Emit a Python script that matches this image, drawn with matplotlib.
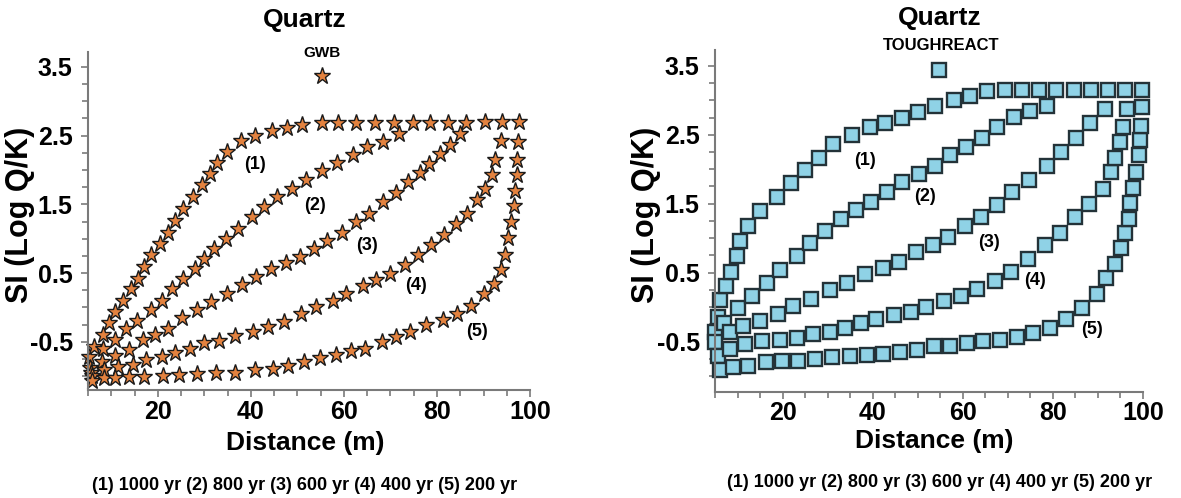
import matplotlib
matplotlib.use("Agg")
import matplotlib.pyplot as plt
from matplotlib.ticker import MultipleLocator, FixedLocator

plt.rcParams['font.family'] = ['Liberation Sans', 'DejaVu Sans']
plt.rcParams['font.weight'] = 'bold'
plt.rcParams['axes.unicode_minus'] = False

# ---- GWB (left panel) ----
gwb1_x = [5.2, 6.3, 8.3, 9.6, 10.9, 12.5, 14.2, 15.8, 17.1, 18.6, 20.4, 22.1, 23.7, 25.5, 27.5,
          29.5, 31.2, 32.8, 34.8, 37.8, 40.9, 44.5, 47.7, 51.0, 55.2, 58.8, 62.7, 66.7, 70.8,
          74.8, 78.5, 82.3, 86.3, 90.3, 94.0, 97.6]
gwb1_y = [-0.72, -0.57, -0.40, -0.23, -0.07, 0.10, 0.27, 0.42, 0.59, 0.76, 0.93, 1.09, 1.26, 1.43,
          1.60, 1.78, 1.94, 2.10, 2.26, 2.42, 2.49, 2.56, 2.61, 2.66, 2.68, 2.68, 2.68, 2.69, 2.69,
          2.69, 2.69, 2.69, 2.69, 2.70, 2.70, 2.70]
gwb2_x = [5.5, 8.3, 10.8, 13.1, 15.6, 18.5, 20.8, 23.1, 25.4, 27.9, 30.0, 32.1, 34.6, 37.3, 40.2,
          42.9, 45.6, 48.8, 51.9, 55.2, 58.5, 61.9, 65.0, 68.5, 71.9]
gwb2_y = [-0.88, -0.60, -0.48, -0.32, -0.19, -0.04, 0.10, 0.27, 0.42, 0.56, 0.71, 0.85, 1.00, 1.14,
          1.31, 1.46, 1.60, 1.73, 1.86, 1.99, 2.10, 2.22, 2.33, 2.41, 2.53]
gwb3_x = [5.6, 8.1, 10.8, 13.8, 16.9, 19.4, 22.1, 25.2, 28.5, 31.5, 34.8, 38.1, 41.2, 44.4, 47.5,
          50.6, 53.5, 56.4, 59.6, 62.5, 65.4, 68.5, 71.2, 73.8, 76.3, 78.3, 80.6, 82.9, 85.0]
gwb3_y = [-0.95, -0.80, -0.70, -0.62, -0.47, -0.40, -0.31, -0.16, -0.04, 0.08, 0.20, 0.32, 0.44,
          0.56, 0.64, 0.73, 0.85, 0.97, 1.09, 1.24, 1.36, 1.53, 1.66, 1.82, 1.96, 2.08, 2.23, 2.37,
          2.53]
gwb4_x = [5.8, 8.4, 11.5, 14.6, 17.5, 20.9, 23.8, 26.9, 30.0, 33.2, 36.7, 40.4, 43.7, 47.2, 50.8,
          54.0, 57.7, 60.5, 64.1, 66.9, 70.0, 73.1, 76.0, 78.8, 81.5, 84.0, 86.5, 88.5, 90.4, 91.9,
          92.5, 93.8]
gwb4_y = [-1.00, -0.91, -0.87, -0.83, -0.77, -0.72, -0.66, -0.60, -0.52, -0.49, -0.42, -0.36,
          -0.29, -0.21, -0.09, 0.01, 0.09, 0.20, 0.31, 0.40, 0.49, 0.62, 0.77, 0.91, 1.06, 1.22,
          1.36, 1.56, 1.73, 1.93, 2.14, 2.42]
gwb5_x = [5.8, 8.5, 10.8, 13.8, 17.1, 21.2, 24.6, 28.5, 32.5, 36.5, 40.8, 44.8, 47.9, 51.5, 54.8,
          58.3, 61.5, 64.6, 68.1, 71.2, 74.2, 77.7, 81.2, 84.2, 87.3, 90.0, 92.2, 93.8, 94.6, 95.2,
          96.0, 96.5, 96.8, 97.1, 97.3, 97.5]
gwb5_y = [-1.07, -1.03, -1.02, -1.01, -1.01, -0.99, -0.98, -0.97, -0.95, -0.95, -0.91, -0.89,
          -0.85, -0.79, -0.74, -0.69, -0.64, -0.60, -0.50, -0.43, -0.36, -0.26, -0.18, -0.09, 0.02,
          0.20, 0.34, 0.55, 0.77, 1.01, 1.25, 1.47, 1.70, 1.93, 2.14, 2.41]

# ---- TOUGHREACT (right panel) ----
tr1_x = [5.7, 6.2, 7.5, 8.5, 9.8, 10.6, 12.4, 15.1, 18.8, 21.9, 25.0, 28.2, 31.3, 35.4, 39.3, 42.7,
         46.5, 50.1, 53.9, 58.0, 61.5, 65.4, 69.4, 73.2, 77.0, 80.8, 84.6, 88.4, 92.2, 96.0, 99.8]
tr1_y = [-0.14, 0.10, 0.31, 0.51, 0.74, 0.96, 1.17, 1.40, 1.60, 1.80, 1.99, 2.17, 2.37, 2.50,
         2.61, 2.67, 2.75, 2.83, 2.92, 3.00, 3.07, 3.14, 3.15, 3.15, 3.15, 3.15, 3.15, 3.15, 3.15,
         3.15, 3.15]
tr2_x = [5.0, 7.1, 10.2, 13.2, 16.5, 19.4, 23.1, 26.2, 29.5, 32.9, 36.2, 39.7, 43.2, 46.5, 50.2,
         53.9, 57.2, 60.8, 64.2, 67.7, 71.4, 74.9, 78.6]
tr2_y = [-0.37, -0.23, -0.02, 0.16, 0.35, 0.54, 0.74, 0.93, 1.11, 1.28, 1.41, 1.52, 1.67, 1.81,
         1.93, 2.05, 2.20, 2.32, 2.46, 2.61, 2.76, 2.85, 2.92]
tr3_x = [5.0, 8.3, 11.3, 15.0, 19.0, 22.3, 26.4, 30.5, 34.4, 38.3, 42.2, 45.9, 49.7, 53.3, 56.8,
         60.5, 64.0, 67.7, 71.0, 74.7, 78.6, 81.9, 85.2, 88.2, 91.6]
tr3_y = [-0.51, -0.37, -0.28, -0.21, -0.10, 0.01, 0.11, 0.24, 0.35, 0.48, 0.56, 0.66, 0.80, 0.90,
         1.02, 1.17, 1.30, 1.48, 1.67, 1.85, 2.05, 2.25, 2.45, 2.67, 2.87]
tr4_x = [5.6, 8.3, 11.7, 15.5, 19.4, 23.3, 26.8, 30.5, 33.8, 37.5, 40.8, 44.7, 48.4, 51.9, 55.8,
         59.7, 63.2, 67.1, 70.6, 74.5, 78.2, 81.5, 85.0, 88.1, 91.2, 93.0, 93.8, 95.0, 95.6, 96.5]
tr4_y = [-0.71, -0.61, -0.54, -0.50, -0.48, -0.45, -0.39, -0.37, -0.31, -0.23, -0.18, -0.11,
         -0.07, 0.00, 0.08, 0.16, 0.26, 0.38, 0.51, 0.70, 0.90, 1.08, 1.30, 1.50, 1.72, 1.96, 2.17,
         2.39, 2.62, 2.88]
tr5_x = [6.1, 9.1, 12.4, 16.3, 19.8, 23.5, 27.2, 30.9, 35.0, 38.7, 42.4, 46.1, 49.8, 53.7, 57.2,
         60.9, 64.6, 68.3, 72.0, 75.5, 79.3, 83.0, 86.4, 89.7, 91.8, 93.8, 95.2, 96.0, 96.8, 97.2,
         97.8, 98.4, 99.1, 99.3, 99.5, 99.8]
tr5_y = [-0.91, -0.87, -0.85, -0.80, -0.79, -0.78, -0.76, -0.73, -0.71, -0.69, -0.68, -0.66,
         -0.62, -0.57, -0.56, -0.52, -0.50, -0.48, -0.44, -0.38, -0.31, -0.18, -0.02, 0.19, 0.42,
         0.63, 0.86, 1.07, 1.28, 1.51, 1.73, 1.96, 2.20, 2.43, 2.63, 2.90]

curve_labels = ['(1)', '(2)', '(3)', '(4)', '(5)']
gwb_lab_x = [41.0, 53.7, 65.0, 75.6, 88.7]
gwb_lab_y = [2.08, 1.48, 0.90, 0.32, -0.35]
tr_lab_x = [38.3, 51.7, 65.9, 76.1, 88.7]
tr_lab_y = [2.13, 1.60, 0.94, 0.38, -0.32]

legend_gwb = (55.2, 3.36)
legend_tr = (54.8, 3.44)
caption = '(1) 1000 yr (2) 800 yr (3) 600 yr (4) 400 yr (5) 200 yr'

fig = plt.figure(figsize=(11.81, 4.98), dpi=100)
axL = fig.add_axes([0.0745, 0.2169, 0.3743, 0.6793])
axR = fig.add_axes([0.6054, 0.2134, 0.3624, 0.6861])

star = dict(marker='*', ms=12.5, mfc='#e3823f', mec='#1a1a1a', mew=1.0, ls='none', clip_on=False)
sq = dict(marker='s', ms=9.5, mfc='#8fd2e6', mec='#233238', mew=1.7, ls='none', clip_on=False)

for xs, ys in [(gwb1_x, gwb1_y), (gwb2_x, gwb2_y), (gwb3_x, gwb3_y), (gwb4_x, gwb4_y), (gwb5_x, gwb5_y)]:
    axL.plot(xs, ys, **star)
axL.plot([legend_gwb[0]], [legend_gwb[1]], **star)

for xs, ys in [(tr1_x, tr1_y), (tr2_x, tr2_y), (tr3_x, tr3_y), (tr4_x, tr4_y), (tr5_x, tr5_y)]:
    axR.plot(xs, ys, **sq)
axR.plot([legend_tr[0]], [legend_tr[1]], **sq)

for ax, lx, ly in [(axL, gwb_lab_x, gwb_lab_y), (axR, tr_lab_x, tr_lab_y)]:
    for t, x, y in zip(curve_labels, lx, ly):
        ax.text(x, y, t, fontsize=13, fontweight='bold', ha='center', va='center')

axL.text(55.2, 3.70, 'GWB', fontsize=11, fontweight='bold', ha='center', va='center', clip_on=False)
axR.text(55.2, 3.80, 'TOUGHREACT', fontsize=12, fontweight='bold', ha='center', va='center', clip_on=False)

for ax, ylo, yhi in [(axL, -1.2, 3.72), (axR, -1.23, 3.73)]:
    ax.set_xlim(5, 100)
    ax.set_ylim(ylo, yhi)
    for s in ['top', 'right']:
        ax.spines[s].set_visible(False)
    for s in ['left', 'bottom']:
        ax.spines[s].set_color('#7a7a7a')
        ax.spines[s].set_linewidth(1.5)
    ax.xaxis.set_major_locator(FixedLocator([20, 40, 60, 80, 100]))
    ax.xaxis.set_minor_locator(MultipleLocator(5))
    ax.yaxis.set_major_locator(FixedLocator([-0.5, 0.5, 1.5, 2.5, 3.5]))
    ax.yaxis.set_minor_locator(MultipleLocator(0.25))
    ax.tick_params(which='both', direction='out', color='#7a7a7a', width=1.2)
    ax.tick_params(which='major', length=5, labelsize=18)
    ax.tick_params(axis='x', which='major', pad=2)
    ax.tick_params(axis='y', which='major', pad=6)
    ax.tick_params(which='minor', length=4)
    for lab in ax.get_xticklabels() + ax.get_yticklabels():
        lab.set_fontweight('bold')
    ax.patch.set_alpha(0)

fig.text(305 / 1181, 1 - 20 / 498, 'Quartz', fontsize=19, fontweight='bold', ha='center', va='center')
fig.text(940 / 1181, 1 - 18 / 498, 'Quartz', fontsize=19, fontweight='bold', ha='center', va='center')
fig.text(305 / 1181, 1 - 443 / 498, 'Distance (m)', fontsize=19, fontweight='bold', ha='center', va='center')
fig.text(934 / 1181, 1 - 441 / 498, 'Distance (m)', fontsize=19, fontweight='bold', ha='center', va='center')
fig.text(20 / 1181, 1 - 215 / 498, 'SI (Log Q/K)', fontsize=22, fontweight='bold', ha='center', va='center', rotation=90)
fig.text(646 / 1181, 1 - 215 / 498, 'SI (Log Q/K)', fontsize=22, fontweight='bold', ha='center', va='center', rotation=90)
fig.text(305 / 1181, 1 - 485 / 498, caption, fontsize=13, fontweight='bold', ha='center', va='center')
fig.text(940 / 1181, 1 - 482 / 498, caption, fontsize=13, fontweight='bold', ha='center', va='center')

fig.savefig('out.png', dpi=100)
